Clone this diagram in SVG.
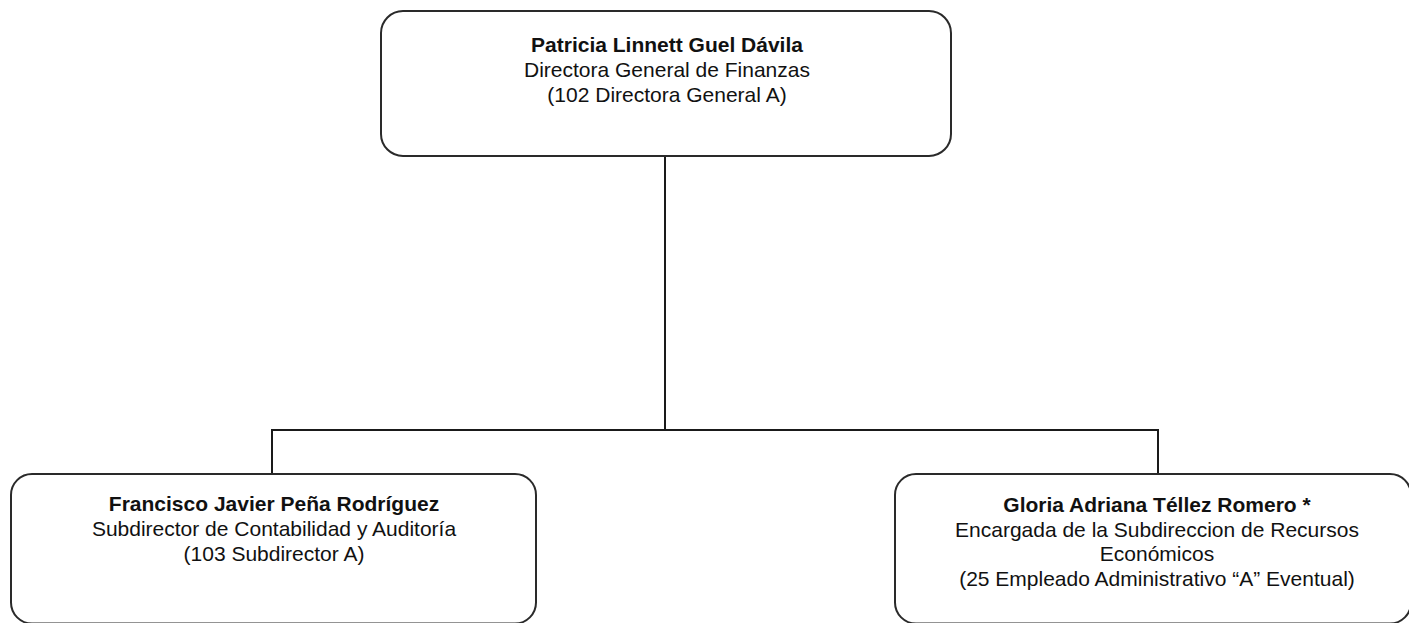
<svg xmlns="http://www.w3.org/2000/svg" width="1409" height="623" viewBox="0 0 1409 623">
<style>
.box{fill:#fff;stroke:#2a2a2a;stroke-width:2}
.conn{fill:none;stroke:#1a1a1a;stroke-width:2}
text{font-family:"Liberation Sans",Arial,sans-serif;font-size:21px;fill:#111;text-anchor:middle}
.b{font-weight:bold}
</style>
<rect width="1409" height="623" fill="#fff"/>
<g id="connectors">
<path class="conn" d="M665 156V430M272 474V430H1158V474"/>
</g>
<g id="n-director">
<rect class="box" x="381" y="11" width="570" height="145" rx="22"/>
<text x="667" y="52" class="b">Patricia Linnett Guel Dávila</text>
<text x="667" y="77">Directora General de Finanzas</text>
<text x="667" y="102">(102 Directora General A)</text>
</g>
<g id="n-contabilidad">
<rect class="box" x="11" y="474" width="525" height="149.5" rx="21"/>
<text x="274" y="511" class="b">Francisco Javier Peña Rodríguez</text>
<text x="274" y="536">Subdirector de Contabilidad y Auditoría</text>
<text x="274" y="561">(103 Subdirector A)</text>
</g>
<g id="n-recursos">
<rect class="box" x="895" y="474" width="516" height="149.5" rx="21"/>
<text x="1157" y="512" class="b">Gloria Adriana Téllez Romero *</text>
<text x="1157" y="537">Encargada de la Subdireccion de Recursos</text>
<text x="1157" y="561">Económicos</text>
<text x="1157" y="586">(25 Empleado Administrativo “A” Eventual)</text>
</g>
</svg>
